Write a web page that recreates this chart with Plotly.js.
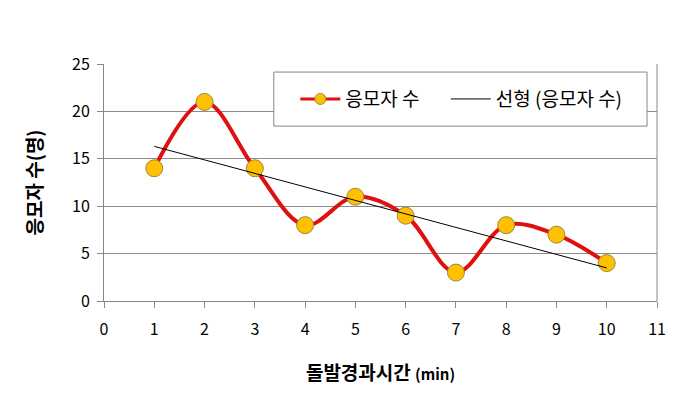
<!DOCTYPE html>
<html>
<head>
<meta charset="utf-8">
<script src="https://cdn.plot.ly/plotly-3.0.1.min.js"></script>
<style>
  html, body { margin: 0; padding: 0; background: #fff; }
  #chart { width: 676px; height: 401px; }
</style>
</head>
<body>
<div id="chart"></div>
<script>
// elapsed time after the sudden event (min) and number of applicants
const minutes = [1, 2, 3, 4, 5, 6, 7, 8, 9, 10];
const applicants = [14, 21, 14, 8, 11, 9, 3, 8, 7, 4];
const xTicks = [0, 1, 2, 3, 4, 5, 6, 7, 8, 9, 10, 11];
const yTicks = [0, 5, 10, 15, 20, 25];

// least squares trend, like the spreadsheet's linear trendline
function linearFit(xs, ys) {
  const n = xs.length;
  const mx = xs.reduce((a, b) => a + b, 0) / n;
  const my = ys.reduce((a, b) => a + b, 0) / n;
  let sxy = 0, sxx = 0;
  xs.forEach((x, i) => {
    sxy += (x - mx) * (ys[i] - my);
    sxx += (x - mx) * (x - mx);
  });
  const slope = sxy / sxx;
  return xs.map(x => my + slope * (x - mx));
}

const font = '"Noto Sans CJK KR", "Noto Sans", sans-serif';
const trendX = [minutes[0], minutes[minutes.length - 1]];
const trendAll = linearFit(minutes, applicants);
const trendY = [trendAll[0], trendAll[trendAll.length - 1]];

const red = '#e01010';
const gold = '#ffc000';
const goldEdge = '#9a8840';
const gap = '\u00a0'.repeat(5);

const traces = [
  {
    x: minutes,
    y: applicants,
    name: '응모자 수',
    type: 'scatter',
    mode: 'lines+markers',
    showlegend: false,
    line: {color: red, width: 4, shape: 'spline', smoothing: 1},
    marker: {color: gold, size: 17, line: {color: goldEdge, width: 1}}
  },
  {
    x: trendX,
    y: trendY,
    name: '선형 (응모자 수)',
    type: 'scatter',
    mode: 'lines',
    showlegend: false,
    line: {color: '#000', width: 1}
  },
  // legend entries only (smaller marker, as in the source legend)
  {
    x: [null], y: [null],
    name: '응모자 수' + gap,
    type: 'scatter',
    mode: 'lines+markers',
    line: {color: red, width: 3},
    marker: {color: gold, size: 11, line: {color: goldEdge, width: 1}}
  },
  {
    x: [null], y: [null],
    name: '선형 (응모자 수)',
    type: 'scatter',
    mode: 'lines',
    line: {color: '#000', width: 1}
  }
];

const layout = {
  width: 676,
  height: 401,
  margin: {l: 104, r: 19, t: 64, b: 100},
  paper_bgcolor: '#fff',
  plot_bgcolor: '#fff',
  font: {family: font, size: 16, color: '#000'},
  showlegend: true,
  legend: {
    orientation: 'h',
    x: 0.346, xanchor: 'left',
    y: 0.852, yanchor: 'middle',
    bgcolor: 'rgba(0,0,0,0)',
    borderwidth: 0,
    font: {family: font, size: 19, color: '#000'},
    itemwidth: 40
  },
  xaxis: {
    range: [0, 11],
    tickvals: xTicks,
    ticks: 'outside',
    ticklen: 6,
    tickcolor: '#888',
    ticklabelstandoff: 8,
    showgrid: false,
    zeroline: false,
    showline: true,
    linecolor: '#888',
    linewidth: 1,
    tickfont: {family: font, size: 16},
    title: {text: '<b>돌발경과시간 <span style="font-size:15px">(min)</span></b>', font: {family: font, size: 19}, standoff: 27}
  },
  yaxis: {
    range: [0, 25],
    tickvals: yTicks,
    ticks: 'outside',
    ticklen: 6,
    tickcolor: '#888',
    ticklabelstandoff: 4,
    showgrid: true,
    gridcolor: '#8c8c8c',
    gridwidth: 1,
    zeroline: false,
    showline: true,
    linecolor: '#888',
    linewidth: 1,
    tickfont: {family: font, size: 16},
    title: {text: '<b>응모자 수(명)</b>', font: {family: font, size: 19}, standoff: 24}
  },
  shapes: [
    // right border of the plot area
    {type: 'line', xref: 'paper', yref: 'paper', x0: 1, x1: 1, y0: 0, y1: 1,
     line: {color: '#888', width: 1}},
    // legend frame
    {type: 'rect', xref: 'paper', yref: 'paper', layer: 'above',
     x0: 0.307, x1: 0.982, y0: 0.738, y1: 0.966,
     fillcolor: '#fff', line: {color: '#888', width: 1}}
  ]
};

Plotly.newPlot('chart', traces, layout, {displayModeBar: false, staticPlot: true});
</script>
</body>
</html>
